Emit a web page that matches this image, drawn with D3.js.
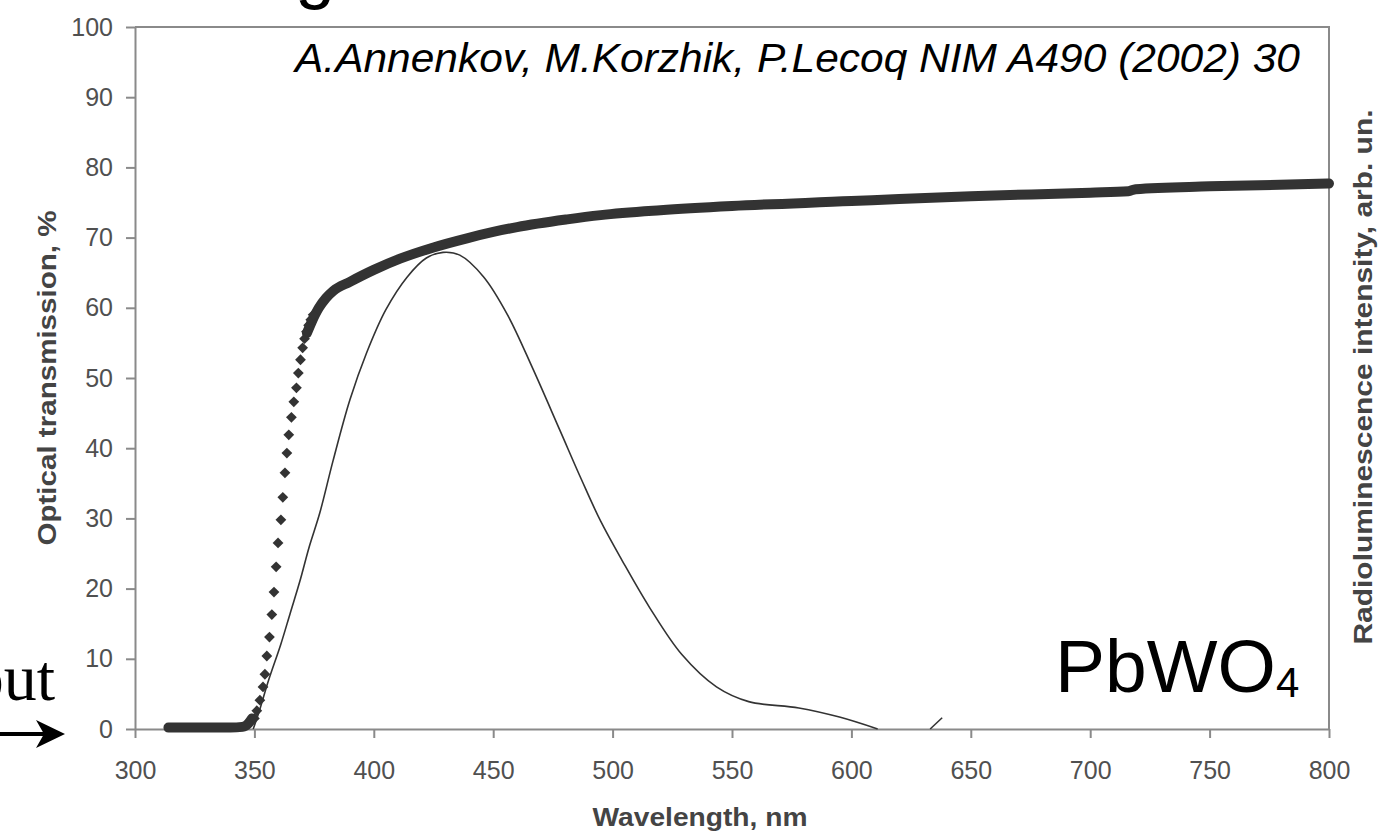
<!DOCTYPE html>
<html>
<head>
<meta charset="utf-8">
<script src="https://cdn.jsdelivr.net/npm/d3@7"></script>
<style>
  body { margin: 0; background: #fff; }
  svg { display: block; font-family: "Liberation Sans", Arial, sans-serif; }
  .axis path, .axis line { stroke: #8a8a8a; stroke-width: 2; }
  .axis text { fill: #505050; font-size: 25px; }
</style>
</head>
<body>
<svg width="1383" height="836"></svg>
<script>
// tick labels
const xTicks = [300, 350, 400, 450, 500, 550, 600, 650, 700, 750, 800]
const yTicks = [0, 10, 20, 30, 40, 50, 60, 70, 80, 90, 100]

// transmission: flat part near zero (dense points, look like a band)
const bandLowWl  = [314, 320, 330, 340, 345, 347.5, 349]
const bandLowVal = [0.2, 0.2, 0.2, 0.2, 0.3, 0.8, 1.5]

// transmission: steep part, single diamonds
const dotWl  = [350, 351, 352.3, 353.6, 354.4, 355.2, 356.3, 357.3, 358.2, 359.1, 359.9, 361.1, 361.9, 362.8, 363.6, 364.4, 365.5, 366.5, 367.6, 368.4, 369.3, 370.2, 371.0, 371.8, 372.7, 373.6, 374.6]
const dotVal = [1.5, 2.6, 4.1, 6.0, 7.8, 10.4, 13.1, 16.3, 19.5, 23.1, 26.5, 29.8, 33.0, 36.5, 39.3, 41.9, 44.4, 46.6, 48.6, 50.7, 52.6, 54.3, 55.6, 56.6, 57.5, 58.3, 59.0]

// transmission: upper part (dense points, band)
const bandHighWl  = [372, 374, 377, 380, 383, 390, 400, 411, 425, 439, 450, 460, 481, 495, 520, 550, 600, 620, 650, 700, 716, 719, 750, 800]
const bandHighVal = [56.4, 58.0, 60.0, 61.4, 62.4, 63.7, 65.4, 67.0, 68.6, 69.9, 70.8, 71.5, 72.6, 73.2, 73.9, 74.5, 75.2, 75.5, 75.9, 76.4, 76.6, 76.9, 77.3, 77.7]

// radioluminescence spectrum
const emisWl  = [349.5, 352, 356, 361, 365, 369, 373, 377.4, 383, 390, 397, 405, 414, 422, 429, 436, 446, 456, 466.5, 478, 487, 495, 504, 515.5, 529, 543.5, 557, 578, 595, 611]
const emisVal = [0, 2.5, 7.0, 12.0, 16.5, 21, 26, 30.8, 38.3, 46.9, 53.6, 59.7, 64.4, 67.1, 67.9, 67.5, 64.4, 59.0, 51.4, 42.5, 35.5, 29.6, 24.0, 17.3, 10.6, 6.0, 3.9, 3.0, 1.7, 0]

// small stray stroke near 635 nm
const strayWl  = [633, 638]
const strayVal = [0, 1.6]

const svg = d3.select("svg")

const x = d3.scaleLinear().domain([300, 800]).range([135, 1329])
const y = d3.scaleLinear().domain([0, 100]).range([729, 27])

const pts = (wl, val) => wl.map((w, i) => [w, val[i]])

// frame top + right
svg.append("path")
  .attr("d", `M${x(300)},${y(100)}H${x(800)}V${y(0)}`)
  .attr("fill", "none")
  .attr("stroke", "#8a8a8a")
  .attr("stroke-width", 2)

// axes
svg.append("g")
  .attr("class", "axis")
  .attr("transform", `translate(${x(300)},0)`)
  .call(d3.axisLeft(y).tickValues(yTicks).tickSize(9).tickSizeOuter(0).tickPadding(13))

svg.append("g")
  .attr("class", "axis")
  .attr("transform", `translate(0,${y(0)})`)
  .call(d3.axisBottom(x).tickValues(xTicks).tickSize(9).tickSizeOuter(0).tickPadding(23))

// transmission bands (overlapping markers)
const line = d3.line()
  .x(d => x(d[0]))
  .y(d => y(d[1]))
  .curve(d3.curveMonotoneX)

;[pts(bandLowWl, bandLowVal), pts(bandHighWl, bandHighVal)].forEach(p => {
  svg.append("path")
    .datum(p)
    .attr("d", line)
    .attr("fill", "none")
    .attr("stroke", "#333")
    .attr("stroke-width", 10)
    .attr("stroke-linecap", "round")
    .attr("stroke-linejoin", "round")
})

// transmission diamonds
const diamond = d3.symbol().type(d3.symbolSquare).size(58)
svg.selectAll("path.dot")
  .data(pts(dotWl, dotVal))
  .enter()
  .append("path")
  .attr("class", "dot")
  .attr("d", diamond)
  .attr("transform", d => `translate(${x(d[0])},${y(d[1])}) rotate(45)`)
  .attr("fill", "#333")

// emission curve
svg.append("path")
  .datum(pts(emisWl, emisVal))
  .attr("d", d3.line().x(d => x(d[0])).y(d => y(d[1])).curve(d3.curveCatmullRom.alpha(0.5)))
  .attr("fill", "none")
  .attr("stroke", "#333")
  .attr("stroke-width", 1.6)

svg.append("path")
  .datum(pts(strayWl, strayVal))
  .attr("d", d3.line().x(d => x(d[0])).y(d => y(d[1])))
  .attr("fill", "none")
  .attr("stroke", "#333")
  .attr("stroke-width", 1.6)

// axis titles
svg.append("text")
  .attr("x", 700)
  .attr("y", 826)
  .attr("text-anchor", "middle")
  .attr("font-weight", "bold")
  .attr("font-size", 25)
  .attr("fill", "#444")
  .attr("textLength", 215)
  .attr("lengthAdjust", "spacingAndGlyphs")
  .text("Wavelength, nm")

svg.append("text")
  .attr("transform", "translate(56,378) rotate(-90)")
  .attr("text-anchor", "middle")
  .attr("font-weight", "bold")
  .attr("font-size", 25)
  .attr("fill", "#444")
  .attr("textLength", 335)
  .attr("lengthAdjust", "spacingAndGlyphs")
  .text("Optical transmission, %")

svg.append("text")
  .attr("transform", "translate(1372,377) rotate(-90)")
  .attr("text-anchor", "middle")
  .attr("font-weight", "bold")
  .attr("font-size", 25)
  .attr("fill", "#444")
  .attr("textLength", 535)
  .attr("lengthAdjust", "spacingAndGlyphs")
  .text("Radioluminescence intensity, arb. un.")

// citation
svg.append("text")
  .attr("x", 295)
  .attr("y", 72)
  .attr("font-style", "italic")
  .attr("font-size", 40)
  .attr("fill", "#000")
  .attr("textLength", 1005)
  .attr("lengthAdjust", "spacingAndGlyphs")
  .text("A.Annenkov, M.Korzhik, P.Lecoq NIM A490 (2002) 30")

// crystal label
const lab = svg.append("text")
  .attr("x", 1055)
  .attr("y", 692)
  .attr("font-size", 75)
  .attr("fill", "#000")
lab.append("tspan").text("PbWO")
lab.append("tspan").attr("font-size", 42).attr("dy", 5).text("4")

// cut-off slide title glyph at top
svg.append("text")
  .attr("x", 295)
  .attr("y", -5)
  .attr("font-size", 72)
  .attr("fill", "#000")
  .text("g")

// "out" label and arrow at left edge
svg.append("text")
  .attr("x", 55)
  .attr("y", 700)
  .attr("text-anchor", "end")
  .attr("font-family", "Liberation Serif, Times New Roman, serif")
  .attr("font-size", 66)
  .attr("fill", "#000")
  .text("out")

svg.append("line")
  .attr("x1", 0).attr("y1", 734)
  .attr("x2", 50).attr("y2", 734)
  .attr("stroke", "#000")
  .attr("stroke-width", 4)

svg.append("path")
  .attr("d", "M65,734 L36,720 L44,734 L36,748 Z")
  .attr("fill", "#000")
</script>
</body>
</html>
